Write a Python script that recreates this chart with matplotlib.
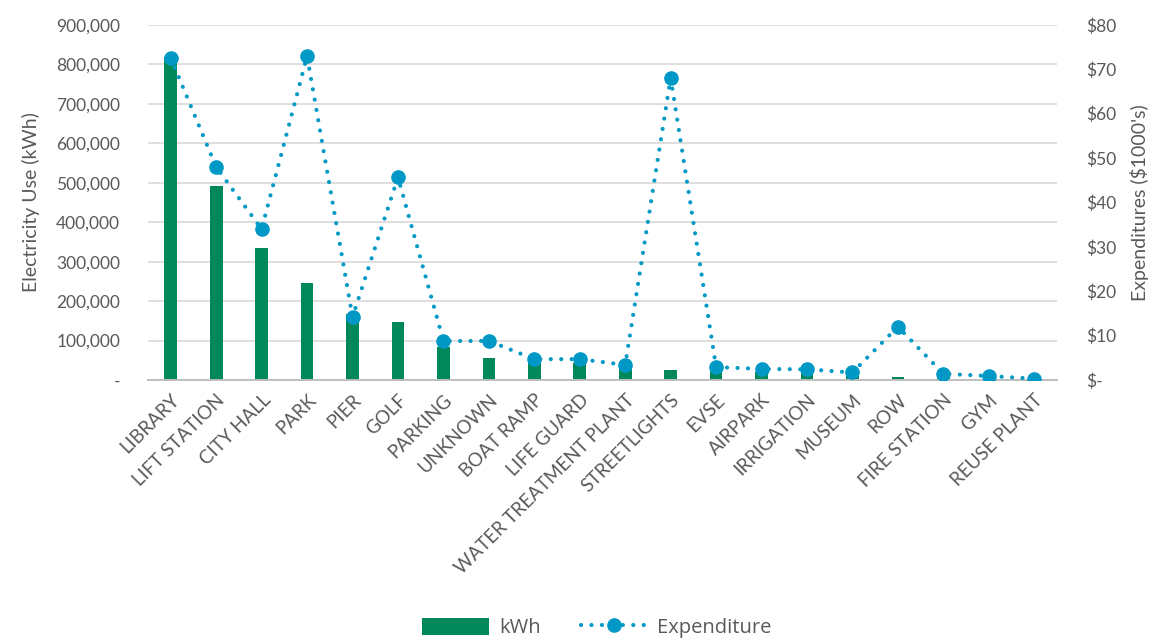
import matplotlib
matplotlib.use("Agg")
import matplotlib.pyplot as plt
from matplotlib.lines import Line2D
from matplotlib.patches import Patch
from matplotlib.ticker import FuncFormatter, MultipleLocator

categories = ["LIBRARY", "LIFT STATION", "CITY HALL", "PARK", "PIER", "GOLF", "PARKING",
              "UNKNOWN", "BOAT RAMP", "LIFE GUARD", "WATER TREATMENT PLANT", "STREETLIGHTS",
              "EVSE", "AIRPARK", "IRRIGATION", "MUSEUM", "ROW", "FIRE STATION", "GYM",
              "REUSE PLANT"]
kwh = [820000, 493000, 334000, 247000, 168000, 146000, 83000, 56000, 46000, 42000,
       30000, 25000, 27000, 21000, 21000, 17000, 8000, 7000, 2000, 1000]
expenditure = [72.6, 48.0, 34.0, 73.0, 14.2, 45.7, 8.8, 8.8, 4.7, 4.7,
               3.4, 68.1, 2.9, 2.5, 2.4, 1.7, 12.0, 1.4, 0.9, 0.3]

GREEN = "#00885A"
BLUE = "#0099C6"
TXT = "#595959"
GRID = "#D9D9D9"
tick_font = ["Lato", "DejaVu Sans"]
leg_font = ["Open Sans", "DejaVu Sans"]

fig = plt.figure(figsize=(11.6, 6.4), dpi=100)
ax = fig.add_axes([148/1160, 1-380/640, (1057-148)/1160, (380-25)/640])
ax2 = ax.twinx()

x = list(range(len(categories)))
ax.bar(x, kwh, width=0.28, color=GREEN, zorder=2)
ax.set_ylim(0, 900000)
ax.set_xlim(-0.5, len(categories)-0.5)
ax.yaxis.set_major_locator(MultipleLocator(100000))
ax.yaxis.set_major_formatter(FuncFormatter(lambda v, p: "-" if v == 0 else f"{int(v):,}"))
ax.grid(axis="y", color=GRID, linewidth=1.2, zorder=0)
ax.set_axisbelow(True)

ax2.plot(x, expenditure, color=BLUE, linewidth=3.0, linestyle=(0, (0.01, 2.5)),
         dash_capstyle="round", marker="o", markersize=9.5, zorder=3)
ax2.set_ylim(0, 80)
ax2.yaxis.set_major_locator(MultipleLocator(10))
ax2.yaxis.set_major_formatter(FuncFormatter(lambda v, p: "$-" if v == 0 else f"${int(v)}"))

for a in (ax, ax2):
    for s in ("top", "left", "right"):
        a.spines[s].set_visible(False)
    a.spines["bottom"].set_color("#BFBFBF")
    a.spines["bottom"].set_linewidth(1.2)
    a.tick_params(axis="y", length=0, labelsize=12.5, labelcolor=TXT, pad=20)
    for lab in a.get_yticklabels():
        lab.set_fontfamily(tick_font)
ax2.tick_params(axis="y", pad=21)

ax.set_xticks(x)
ax.set_xticklabels(categories, rotation=45, ha="right", rotation_mode="anchor",
                   fontsize=13.5, color=TXT, fontfamily=tick_font)
ax.tick_params(axis="x", length=0, pad=8)

ax.set_ylabel("Electricity Use (kWh)", fontsize=14, color=TXT, fontfamily=tick_font, labelpad=12)
ax2.set_ylabel("Expenditures ($1000's)", fontsize=14, color=TXT, fontfamily=tick_font, labelpad=10)

handles = [Patch(facecolor=GREEN),
           Line2D([0], [0], color=BLUE, linewidth=3.0, linestyle=(0, (0.01, 2.5)),
                  dash_capstyle="round", marker="o", markersize=9.5)]
fig.legend(handles, ["kWh", "Expenditure"], loc="center", bbox_to_anchor=(597/1160, 1-628/640),
           ncol=2, frameon=False, prop={"family": leg_font, "size": 14.5}, labelcolor=TXT,
           handlelength=3.3, handleheight=0.9, columnspacing=2.0, handletextpad=0.5)

fig.savefig("out.png", dpi=100)
